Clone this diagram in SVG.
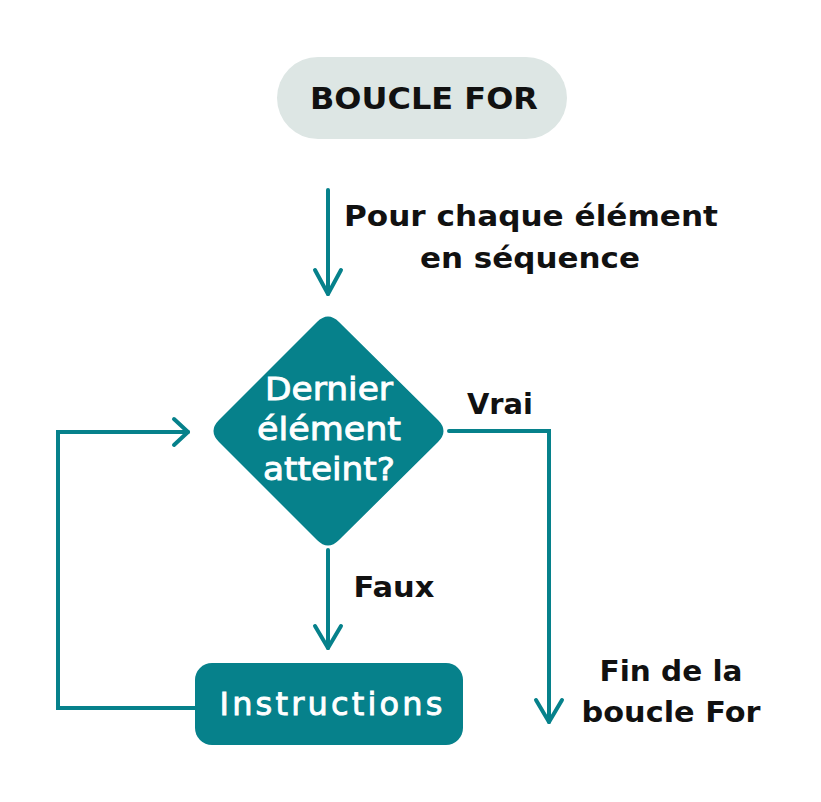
<svg xmlns="http://www.w3.org/2000/svg" width="821" height="802" viewBox="0 0 821 802">
<style>
.lbl{font-family:"DejaVu Sans","Noto Sans",sans-serif;font-weight:bold;font-size:29px;fill:#111;text-anchor:middle}
.wt{font-family:"DejaVu Sans","Noto Sans",sans-serif;font-weight:normal;font-size:32px;fill:#fff;stroke:#fff;stroke-width:0.9;text-anchor:middle}
.ln{fill:none;stroke:#06818B;stroke-width:4;stroke-linecap:round;stroke-linejoin:miter}
.hd{fill:none;stroke:#06818B;stroke-width:4;stroke-linecap:round;stroke-linejoin:round}
</style>
<rect width="821" height="802" fill="#fff"/>
<g id="start">
<rect x="277" y="57" width="290" height="82" rx="41" fill="#DDE6E4"/>
<text class="lbl" x="424" y="109" style="font-size:30px" textLength="228" lengthAdjust="spacingAndGlyphs">BOUCLE FOR</text>
</g>
<g id="decision">
<path d="M317,322 Q328,311 339,322 L438,420 Q449,431 438,442 L339,540 Q328,551 317,540 L219,442 Q208,431 219,420 Z" fill="#06818B"/>
<text class="wt" x="329" y="400" textLength="128" lengthAdjust="spacingAndGlyphs">Dernier</text>
<text class="wt" x="329" y="440" textLength="144" lengthAdjust="spacingAndGlyphs">élément</text>
<text class="wt" x="329" y="480" textLength="132" lengthAdjust="spacingAndGlyphs">atteint?</text>
</g>
<g id="instructions">
<rect x="195" y="663" width="268" height="82" rx="17" fill="#06818B"/>
<text class="wt" x="331" y="715" textLength="223" lengthAdjust="spacing">Instructions</text>
</g>
<g id="end">
<text class="lbl" x="671" y="681" textLength="143" lengthAdjust="spacingAndGlyphs">Fin de la</text>
<text class="lbl" x="671" y="722" textLength="179" lengthAdjust="spacingAndGlyphs">boucle For</text>
</g>
<g id="connectors">
<path class="ln" d="M328,190 V294"/>
<path class="hd" d="M315,270 L328,294 L341,270"/>
<text class="lbl" x="531" y="226" textLength="374" lengthAdjust="spacingAndGlyphs">Pour chaque élément</text>
<text class="lbl" x="530" y="268" textLength="220" lengthAdjust="spacingAndGlyphs">en séquence</text>
<path class="ln" d="M449,431 H549 V722"/>
<path class="hd" d="M536,700 L549,722 L562,700"/>
<text class="lbl" x="500" y="414" textLength="66" lengthAdjust="spacingAndGlyphs">Vrai</text>
<path class="ln" d="M328,550 V648"/>
<path class="hd" d="M315,626 L328,648 L341,626"/>
<text class="lbl" x="394" y="597" textLength="81" lengthAdjust="spacingAndGlyphs">Faux</text>
<path class="ln" d="M195,708 H58 V432 H188"/>
<path class="hd" d="M174,419 L188,432 L174,445"/>
</g>
</svg>
